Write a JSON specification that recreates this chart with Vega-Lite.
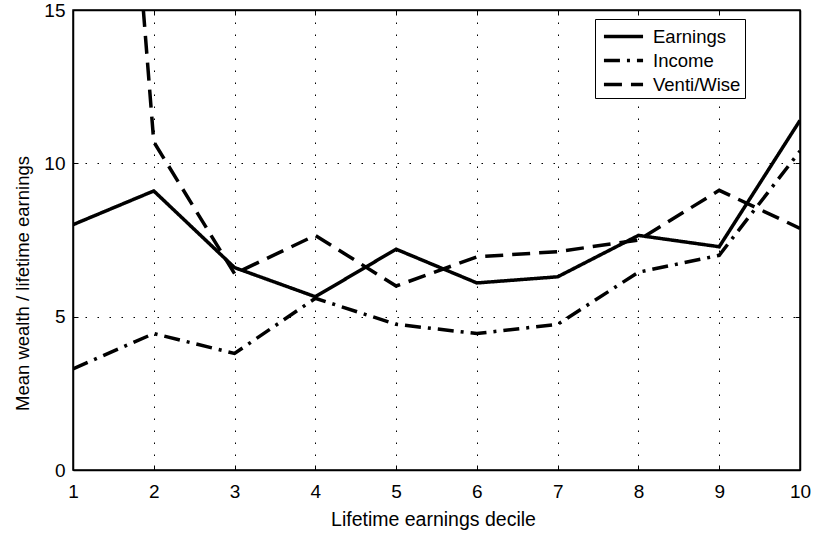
{
  "$schema": "https://vega.github.io/schema/vega-lite/v6.json",
  "width": 727,
  "height": 460,
  "autosize": "none",
  "padding": {"left": 73, "top": 10, "right": 14, "bottom": 63},
  "background": "white",
  "config": {
    "font": "Liberation Sans",
    "view": {"stroke": "black", "strokeWidth": 1.5},
    "axis": {
      "domainColor": "black",
      "domainWidth": 1.5,
      "tickColor": "black",
      "tickSize": -5,
      "tickWidth": 1,
      "labelColor": "black",
      "titleColor": "black",
      "labelFontSize": 19,
      "titleFontSize": 19.5,
      "titleFontWeight": "normal",
      "gridColor": "black",
      "gridDash": [1.5, 10.5],
      "gridWidth": 1,
      "gridOpacity": 1
    }
  },
  "data": {
    "values": [
      {"decile": 1, "series": "Earnings", "value": 8.0},
      {"decile": 2, "series": "Earnings", "value": 9.1},
      {"decile": 3, "series": "Earnings", "value": 6.6},
      {"decile": 4, "series": "Earnings", "value": 5.65},
      {"decile": 5, "series": "Earnings", "value": 7.2},
      {"decile": 6, "series": "Earnings", "value": 6.1},
      {"decile": 7, "series": "Earnings", "value": 6.3},
      {"decile": 8, "series": "Earnings", "value": 7.65},
      {"decile": 9, "series": "Earnings", "value": 7.28},
      {"decile": 10, "series": "Earnings", "value": 11.4},
      {"decile": 1, "series": "Income", "value": 3.3},
      {"decile": 2, "series": "Income", "value": 4.45},
      {"decile": 3, "series": "Income", "value": 3.8},
      {"decile": 4, "series": "Income", "value": 5.6},
      {"decile": 5, "series": "Income", "value": 4.75},
      {"decile": 6, "series": "Income", "value": 4.45},
      {"decile": 7, "series": "Income", "value": 4.75},
      {"decile": 8, "series": "Income", "value": 6.45},
      {"decile": 9, "series": "Income", "value": 7.0},
      {"decile": 10, "series": "Income", "value": 10.4},
      {"decile": 1, "series": "Venti/Wise", "value": 44},
      {"decile": 2, "series": "Venti/Wise", "value": 10.7},
      {"decile": 3, "series": "Venti/Wise", "value": 6.4},
      {"decile": 4, "series": "Venti/Wise", "value": 7.65},
      {"decile": 5, "series": "Venti/Wise", "value": 6.0},
      {"decile": 6, "series": "Venti/Wise", "value": 6.95},
      {"decile": 7, "series": "Venti/Wise", "value": 7.12},
      {"decile": 8, "series": "Venti/Wise", "value": 7.5},
      {"decile": 9, "series": "Venti/Wise", "value": 9.12},
      {"decile": 10, "series": "Venti/Wise", "value": 7.88}
    ]
  },
  "resolve": {"axis": {"x": "independent", "y": "independent"}},
  "layer": [
    {
      "mark": {"type": "line", "clip": true, "strokeWidth": 3.5, "color": "black"},
      "encoding": {
        "x": {
          "field": "decile",
          "type": "quantitative",
          "scale": {"domain": [1, 10], "nice": false, "zero": false},
          "axis": {"values": [1,2,3,4,5,6,7,8,9,10], "grid": true, "labelFlush": false, "title": "Lifetime earnings decile", "labelPadding": 17, "titleX": 360, "titleY": 55, "titleBaseline": "alphabetic"}
        },
        "y": {
          "field": "value",
          "type": "quantitative",
          "scale": {"domain": [0, 15], "nice": false},
          "axis": {"values": [0, 5, 10, 15], "grid": true, "title": "Mean wealth / lifetime earnings", "titleFontSize": 18.5, "labelPadding": 13, "labelDy": 1.5, "titleX": -51, "titleY": 273, "titleBaseline": "middle"}
        },
        "strokeDash": {
          "field": "series",
          "type": "nominal",
          "scale": {"domain": ["Earnings", "Income", "Venti/Wise"], "range": [[1, 0], [16, 7, 3, 7], [18, 9]]},
          "legend": {
            "title": null,
            "orient": "none",
            "legendX": 522,
            "legendY": 9,
            "fillColor": "white",
            "strokeColor": "black",
            "padding": 4,
            "symbolType": "M-1.7,0H1.7",
            "symbolStrokeWidth": 3.5,
            "symbolStrokeColor": "black",
            "symbolFillColor": "transparent",
            "symbolSize": 529,
            "symbolOffset": 11,
            "labelFontSize": 18.5,
            "labelColor": "black",
            "rowPadding": 1,
            "labelOffset": 16
          }
        }
      }
    },
    {
      "mark": {"type": "line", "opacity": 0},
      "encoding": {
        "x": {
          "field": "decile",
          "type": "quantitative",
          "axis": {"orient": "top", "values": [1,2,3,4,5,6,7,8,9,10], "labels": false, "grid": false, "title": null}
        },
        "y": {
          "field": "value",
          "type": "quantitative",
          "axis": {"orient": "right", "values": [0, 5, 10, 15], "labels": false, "grid": false, "title": null}
        }
      }
    }
  ]
}
